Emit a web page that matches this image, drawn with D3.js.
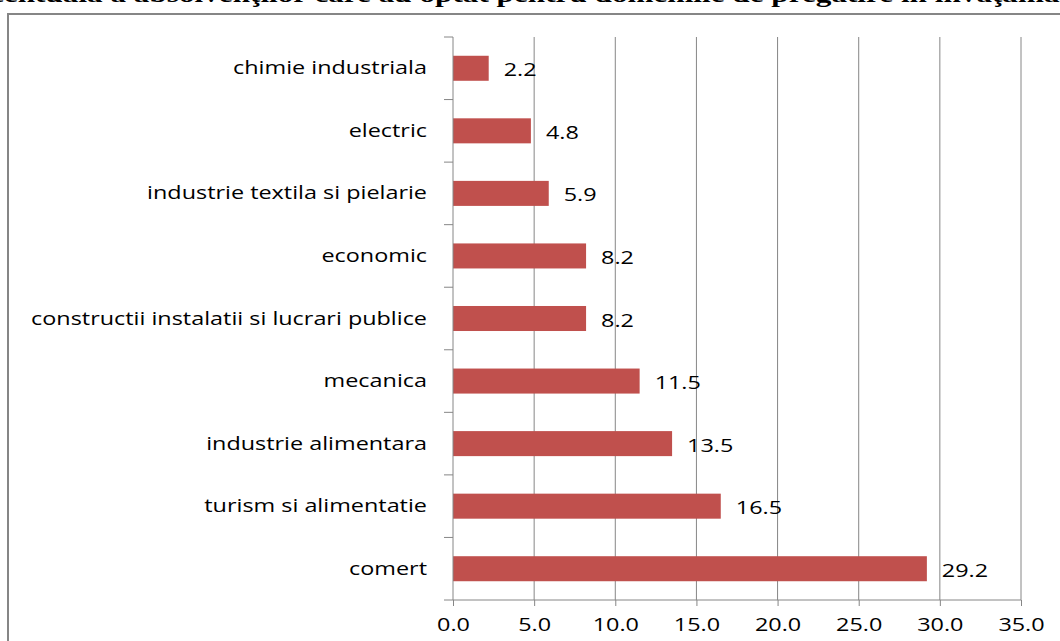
<!DOCTYPE html>
<html>
<head>
<meta charset="utf-8">
<script src="https://cdn.jsdelivr.net/npm/d3@7"></script>
<style>
  html, body { margin: 0; padding: 0; background: #fff; overflow: hidden; }
  svg { display: block; }
</style>
</head>
<body>
<svg id="chart" width="1060" height="641"></svg>
<script>
// Domains of training and the share of graduates in each (%)
const categories = [
  "chimie industriala",
  "electric",
  "industrie textila si pielarie",
  "economic",
  "constructii instalatii si lucrari publice",
  "mecanica",
  "industrie alimentara",
  "turism si alimentatie",
  "comert"
];
const values = [2.2, 4.8, 5.9, 8.2, 8.2, 11.5, 13.5, 16.5, 29.2];
const xTicks = [0, 5, 10, 15, 20, 25, 30, 35];
const titleText = "Distribuţia procentuală a absolvenţilor care au optat pentru domeniile de pregătire în învăţământul profesional";

const svg = d3.select("#chart");
const plot = { left: 453, right: 1021, top: 37, bottom: 600 };
const labelFont = "'Open Sans', 'DejaVu Sans', sans-serif";
const stretch = 1.3;   // text is drawn horizontally widened

// place a text at (x, y) with horizontal widening
function wideText(sel, x, y) {
  return sel.attr("transform", `translate(${x},${y}) scale(${stretch},1)`);
}

// Title, running off the top edge of the page
wideText(svg.append("text"), 530, 2)
  .attr("text-anchor", "middle")
  .attr("font-family", "'Liberation Serif', serif")
  .attr("font-weight", "bold")
  .attr("font-size", 24)
  .attr("fill", "#000")
  .text(titleText);

// Chart frame
svg.append("rect")
  .attr("x", 8).attr("y", 14)
  .attr("width", 1120).attr("height", 700)
  .attr("fill", "none")
  .attr("stroke", "#868686")
  .attr("stroke-width", 2);

const x = d3.scaleLinear().domain([0, 35]).range([plot.left, plot.right]);
const y = d3.scaleBand().domain(categories).range([plot.top, plot.bottom]).paddingInner(0.6).paddingOuter(0.3);
const yBand = d3.scaleBand().domain(categories).range([plot.top, plot.bottom]);

// Vertical gridlines
svg.append("g")
  .selectAll("line")
  .data(xTicks.slice(1))
  .join("line")
  .attr("x1", d => x(d)).attr("x2", d => x(d))
  .attr("y1", plot.top).attr("y2", plot.bottom)
  .attr("stroke", "#868686").attr("stroke-width", 1);

// Bars
svg.append("g")
  .selectAll("rect")
  .data(values)
  .join("rect")
  .attr("x", x(0))
  .attr("y", (d, i) => y(categories[i]))
  .attr("width", d => x(d) - x(0))
  .attr("height", y.bandwidth())
  .attr("fill", "#C0504D");

// Value labels
svg.append("g")
  .selectAll("text")
  .data(values)
  .join("text")
  .each(function (d, i) {
    wideText(d3.select(this), x(d) + 15, y(categories[i]) + y.bandwidth() / 2 + 8);
  })
  .attr("font-family", labelFont)
  .attr("font-size", 18)
  .attr("fill", "#000")
  .text(d => d.toFixed(1));

// Horizontal (value) axis
const xAxis = d3.axisBottom(x).tickValues(xTicks).tickFormat(d => d.toFixed(1)).tickSize(6).tickPadding(0);
const gx = svg.append("g").attr("transform", `translate(0,${plot.bottom})`).call(xAxis);
gx.select(".domain").remove();
gx.append("line")
  .attr("x1", plot.left - 9).attr("x2", plot.right)
  .attr("y1", 0).attr("y2", 0)
  .attr("stroke", "#868686");
gx.selectAll(".tick line").attr("stroke", "#868686");
gx.selectAll(".tick text")
  .attr("y", null).attr("dy", null)
  .attr("transform", `translate(0,31) scale(${stretch},1)`)
  .attr("font-family", labelFont)
  .attr("font-size", 18)
  .attr("fill", "#000");

// Vertical (category) axis with tick marks at category boundaries
const gy = svg.append("g");
gy.append("line")
  .attr("x1", plot.left).attr("x2", plot.left)
  .attr("y1", plot.top).attr("y2", plot.bottom)
  .attr("stroke", "#868686");
gy.selectAll("line.tk")
  .data(categories)
  .join("line")
  .attr("class", "tk")
  .attr("x1", plot.left - 9).attr("x2", plot.left)
  .attr("y1", d => yBand(d)).attr("y2", d => yBand(d))
  .attr("stroke", "#868686");
gy.selectAll("text")
  .data(categories)
  .join("text")
  .each(function (d) {
    wideText(d3.select(this), plot.left - 26, yBand(d) + yBand.bandwidth() / 2 + 6);
  })
  .attr("text-anchor", "end")
  .attr("font-family", labelFont)
  .attr("font-size", 18)
  .attr("fill", "#000")
  .text(d => d);
</script>
</body>
</html>
